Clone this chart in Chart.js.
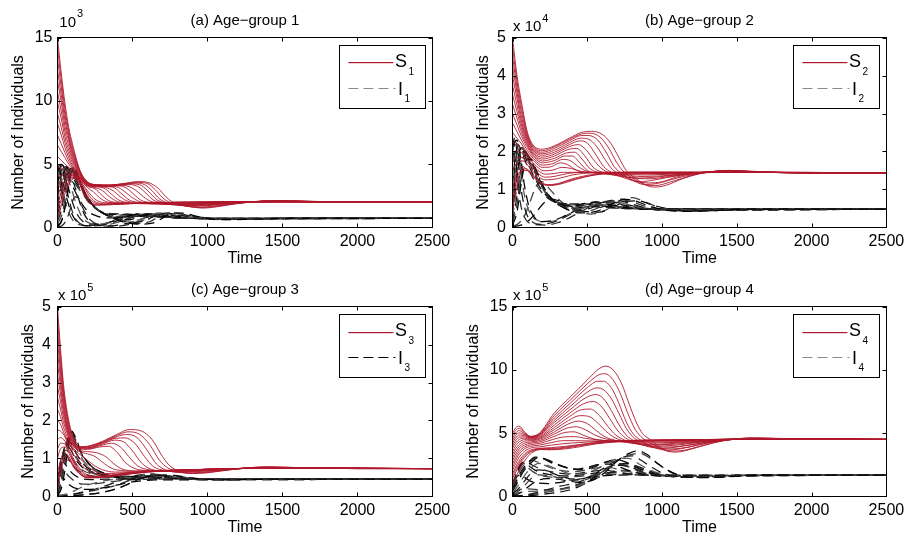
<!DOCTYPE html>
<html><head><meta charset="utf-8">
<script src="https://cdn.jsdelivr.net/npm/chart.js@4.4.1/dist/chart.umd.min.js"></script>
<style>
html,body{margin:0;padding:0;background:#fff;}
#wrap{position:relative;width:909px;height:541px;overflow:hidden;background:#fff;}
canvas{position:absolute;}
</style></head><body>
<div id="wrap">
<canvas id="cA" width="455" height="270" style="left:0;top:0;width:455px;height:270px"></canvas>
<canvas id="cB" width="454" height="270" style="left:455px;top:0;width:454px;height:270px"></canvas>
<canvas id="cC" width="455" height="270" style="left:0;top:269px;width:455px;height:270px"></canvas>
<canvas id="cD" width="454" height="270" style="left:455px;top:269px;width:454px;height:270px"></canvas>
</div>
<script>
// ---------------- data ----------------
const timeTicks = [0, 500, 1000, 1500, 2000, 2500];
const panelTitles = ['(a) Age\u2212group 1', '(b) Age\u2212group 2', '(c) Age\u2212group 3', '(d) Age\u2212group 4'];
const yMaxes = [15, 5, 5, 15];
const yStepsList = [5, 1, 1, 5];
const expPrefixes = ['10', 'x 10', 'x 10', 'x 10'];
const expPowers = ['3', '4', '5', '5'];
const legendSubs = ['1', '2', '3', '4'];
const xLabel = 'Time';
const yLabel = 'Number of Individuals';

// S runs, group 1 (x10^3): [time, value]
const S1 = [
 [[0,15],[25,12.2],[50,9.8],[75,7.9],[100,6.6],[150,4.5],[200,3.6],[260,3.38],[350,3.35],[450,3.48],[540,3.62],[610,3.52],[670,3.1],[720,2.45],[760,2.05],[820,1.8],[900,1.6],[970,1.52],[1050,1.6],[1200,1.88],[1450,2.12],[1700,2.05],[2000,2.0],[2500,2.0]],
 [[0,14.2],[25,11.7],[50,9.35],[75,7.6],[100,6.35],[150,4.45],[200,3.58],[260,3.36],[350,3.34],[445,3.45],[530,3.56],[600,3.46],[650,3.0],[700,2.35],[740,2.02],[800,1.81],[890,1.62],[960,1.56],[1045,1.64],[1200,1.89],[1450,2.11],[1700,2.05],[2000,2.0],[2500,2.0]],
 [[0,13.3],[25,11.1],[50,8.9],[75,7.3],[100,6.1],[150,4.4],[200,3.55],[260,3.35],[350,3.32],[440,3.42],[515,3.5],[580,3.38],[630,2.9],[680,2.25],[720,2.0],[790,1.82],[880,1.65],[950,1.6],[1040,1.68],[1200,1.9],[1450,2.1],[1700,2.04],[2000,2.0],[2500,2.0]],
 [[0,12.4],[25,10.5],[50,8.45],[75,7.05],[100,5.9],[150,4.35],[200,3.52],[260,3.33],[350,3.31],[435,3.39],[500,3.44],[560,3.3],[610,2.8],[660,2.2],[705,1.98],[785,1.81],[880,1.68],[975,1.7],[1200,1.91],[1450,2.1],[1700,2.03],[2000,2.0],[2500,2.0]],
 [[0,11.6],[25,9.9],[50,8.0],[75,6.8],[100,5.7],[150,4.3],[200,3.5],[260,3.32],[350,3.3],[430,3.36],[480,3.38],[540,3.2],[590,2.7],[640,2.15],[690,1.96],[780,1.8],[880,1.7],[1000,1.75],[1200,1.93],[1450,2.09],[1700,2.03],[2000,2.0],[2500,2.0]],
 [[0,10.7],[25,9.2],[50,7.55],[75,6.45],[100,5.5],[150,4.22],[200,3.47],[260,3.31],[350,3.28],[420,3.32],[470,3.25],[525,2.9],[575,2.4],[625,2.04],[680,1.93],[760,1.8],[870,1.73],[1000,1.78],[1200,1.94],[1450,2.08],[1700,2.03],[2500,2.0]],
 [[0,9.9],[25,8.6],[50,7.1],[75,6.1],[100,5.3],[150,4.15],[200,3.45],[260,3.3],[350,3.27],[410,3.28],[460,3.1],[510,2.6],[560,2.12],[620,1.96],[720,1.82],[850,1.76],[1000,1.82],[1200,1.96],[1450,2.07],[1700,2.03],[2000,2.0],[2500,2.0]],
 [[0,9.0],[25,7.9],[50,6.7],[75,5.8],[100,5.1],[150,4.08],[200,3.42],[260,3.28],[340,3.24],[395,3.2],[445,2.85],[495,2.38],[550,2.02],[620,1.92],[750,1.83],[900,1.8],[1000,1.85],[1200,1.97],[1450,2.06],[1700,2.02],[2500,2.0]],
 [[0,8.2],[25,7.3],[50,6.3],[75,5.5],[100,4.9],[150,4.0],[200,3.4],[260,3.27],[330,3.22],[380,3.12],[430,2.62],[480,2.15],[540,1.96],[650,1.85],[800,1.82],[1000,1.88],[1200,1.98],[1450,2.06],[1700,2.02],[2500,2.0]],
 [[0,7.3],[25,6.6],[50,5.9],[75,5.25],[100,4.75],[150,3.95],[200,3.38],[260,3.24],[320,3.16],[370,2.9],[420,2.4],[470,2.05],[530,1.94],[640,1.86],[800,1.85],[1000,1.9],[1200,1.99],[1450,2.05],[2500,2.0]],
 [[0,6.5],[25,6.0],[50,5.5],[75,5.0],[100,4.6],[150,3.9],[200,3.35],[260,3.2],[310,3.1],[360,2.62],[410,2.15],[470,1.96],[580,1.87],[750,1.87],[1000,1.93],[1200,2.0],[1450,2.05],[2500,2.0]],
 [[0,5.6],[25,5.3],[50,5.0],[100,4.45],[150,3.85],[200,3.3],[250,3.14],[300,2.9],[350,2.38],[400,2.04],[460,1.93],[580,1.87],[750,1.9],[1000,1.95],[1450,2.04],[2500,2.0]],
 [[0,4.8],[25,4.65],[50,4.5],[100,4.3],[150,3.8],[200,3.25],[250,3.05],[290,2.6],[340,2.12],[400,1.95],[530,1.88],[750,1.92],[1000,1.97],[1450,2.04],[2500,2.0]],
 [[0,4.0],[25,4.1],[50,4.2],[100,4.2],[150,3.75],[200,3.15],[240,2.8],[280,2.35],[320,2.05],[380,1.93],[500,1.88],[750,1.93],[1000,1.98],[1450,2.03],[2500,2.0]],
 [[0,3.2],[25,3.6],[50,3.95],[100,4.1],[150,3.7],[190,3.05],[230,2.45],[270,2.08],[330,1.93],[480,1.88],[750,1.95],[1000,2.0],[1450,2.03],[2500,2.0]],
 [[0,2.5],[25,3.15],[50,3.7],[95,4.05],[140,3.8],[180,3.1],[220,2.35],[260,1.98],[320,1.86],[480,1.88],[800,1.98],[1450,2.02],[2500,2.0]],
 [[0,1.8],[25,2.7],[50,3.4],[90,3.95],[130,3.85],[170,3.1],[210,2.3],[250,1.92],[310,1.82],[480,1.88],[800,1.98],[1450,2.02],[2500,2.0]],
 [[0,1.2],[25,2.2],[50,3.05],[85,3.75],[120,3.9],[155,3.3],[190,2.45],[230,1.9],[290,1.78],[460,1.86],[800,1.98],[2500,2.0]],
 [[0,0.6],[25,1.7],[50,2.7],[80,3.5],[115,3.9],[145,3.45],[175,2.6],[210,1.9],[270,1.75],[450,1.85],[800,1.98],[2500,2.0]]
];
// I runs, group 1 (x10^3)
const I1 = [
 [[0,0.1],[30,0.6],[60,2.2],[85,4.0],[110,4.7],[140,4.0],[180,2.8],[250,1.6],[330,0.95],[430,0.45],[540,0.25],[640,0.35],[710,0.8],[770,1.15],[840,1.12],[940,0.85],[1080,0.6],[1300,0.64],[1600,0.72],[2500,0.7]],
 [[0,0.3],[28,0.95],[55,2.55],[82,4.3],[108,4.72],[140,3.98],[180,2.78],[250,1.6],[330,0.95],[425,0.48],[525,0.3],[615,0.45],[685,0.9],[745,1.14],[820,1.06],[935,0.8],[1080,0.61],[1300,0.65],[1600,0.72],[2500,0.7]],
 [[0,0.5],[25,1.3],[50,2.9],[78,4.5],[105,4.7],[140,3.95],[180,2.75],[250,1.58],[330,0.95],[420,0.52],[510,0.38],[590,0.55],[660,1.0],[720,1.12],[800,1.0],[930,0.74],[1080,0.62],[1300,0.66],[1600,0.71],[2500,0.7]],
 [[0,0.75],[25,1.75],[50,3.3],[77,4.55],[102,4.65],[140,3.9],[180,2.73],[250,1.58],[330,0.96],[415,0.58],[495,0.48],[570,0.7],[640,1.05],[705,1.12],[795,0.95],[935,0.72],[1090,0.63],[1300,0.66],[1600,0.71],[2500,0.7]],
 [[0,1.0],[25,2.2],[50,3.7],[75,4.6],[100,4.6],[140,3.85],[180,2.72],[250,1.58],[330,0.98],[410,0.65],[480,0.6],[550,0.85],[620,1.08],[690,1.1],[790,0.9],[940,0.7],[1100,0.64],[1300,0.67],[1600,0.71],[2500,0.7]],
 [[0,1.3],[22,2.6],[48,4.05],[72,4.68],[100,4.5],[140,3.78],[180,2.71],[250,1.58],[325,0.99],[400,0.72],[470,0.72],[535,0.94],[605,1.09],[690,1.02],[820,0.82],[970,0.68],[1300,0.68],[1600,0.71],[2500,0.7]],
 [[0,1.6],[20,3.0],[45,4.4],[70,4.75],[100,4.4],[140,3.7],[180,2.7],[250,1.58],[320,1.0],[390,0.78],[460,0.85],[520,1.02],[590,1.08],[690,0.95],[850,0.75],[1000,0.66],[1300,0.68],[1600,0.71],[2500,0.7]],
 [[0,1.9],[20,3.4],[42,4.55],[65,4.78],[95,4.35],[135,3.65],[180,2.68],[250,1.58],[320,1.02],[390,0.86],[460,0.93],[525,1.03],[615,1.0],[740,0.85],[900,0.72],[1300,0.69],[2500,0.7]],
 [[0,2.2],[20,3.8],[40,4.7],[60,4.8],[90,4.3],[130,3.6],[180,2.65],[250,1.58],[320,1.05],[390,0.95],[460,1.02],[530,1.04],[640,0.9],[800,0.75],[1000,0.68],[1300,0.69],[2500,0.7]],
 [[0,2.55],[18,4.05],[35,4.8],[55,4.8],[85,4.2],[125,3.5],[175,2.62],[245,1.59],[315,1.1],[385,1.02],[455,1.03],[540,1.0],[670,0.86],[850,0.73],[1300,0.69],[2500,0.7]],
 [[0,2.9],[15,4.3],[30,4.9],[50,4.8],[80,4.1],[120,3.4],[170,2.6],[240,1.6],[310,1.15],[380,1.08],[450,1.04],[550,0.95],[700,0.8],[900,0.7],[1300,0.69],[2500,0.7]],
 [[0,3.25],[14,4.5],[28,4.95],[48,4.7],[80,3.8],[115,2.9],[155,2.0],[200,1.3],[260,0.9],[330,0.75],[400,0.8],[480,0.92],[600,0.9],[800,0.76],[1100,0.7],[2500,0.7]],
 [[0,3.6],[12,4.7],[25,5.0],[45,4.6],[80,3.5],[110,2.4],[140,1.4],[170,0.7],[210,0.35],[270,0.25],[340,0.35],[400,0.6],[460,0.85],[540,0.95],[700,0.82],[1000,0.7],[2500,0.7]],
 [[0,3.95],[11,4.8],[25,4.85],[48,4.1],[78,2.9],[105,1.8],[135,0.95],[170,0.45],[220,0.25],[285,0.25],[355,0.42],[420,0.7],[490,0.88],[620,0.9],[850,0.76],[1100,0.7],[2500,0.7]],
 [[0,4.3],[10,4.9],[25,4.7],[50,3.6],[75,2.3],[100,1.2],[130,0.5],[170,0.2],[230,0.15],[300,0.25],[370,0.5],[440,0.8],[520,0.92],[700,0.82],[1000,0.71],[2500,0.7]],
 [[0,4.6],[12,4.65],[30,3.9],[55,2.6],[82,1.5],[110,0.75],[145,0.3],[200,0.12],[270,0.15],[345,0.3],[415,0.58],[490,0.82],[580,0.9],[760,0.8],[1000,0.71],[2500,0.7]],
 [[0,4.9],[15,4.3],[35,3.0],[60,1.7],[90,0.8],[120,0.35],[170,0.15],[250,0.12],[330,0.2],[400,0.4],[470,0.7],[560,0.88],[750,0.8],[1000,0.71],[2500,0.7]],
 [[0,0.02],[30,0.12],[60,0.6],[90,1.6],[115,2.4],[140,2.3],[170,1.5],[210,0.7],[260,0.25],[330,0.1],[420,0.12],[500,0.3],[580,0.6],[660,0.9],[740,1.08],[830,1.0],[950,0.8],[1100,0.66],[1400,0.69],[2500,0.7]],
 [[0,0.05],[20,0.3],[40,1.0],[60,2.3],[80,3.4],[100,3.6],[125,2.9],[150,1.9],[180,1.0],[220,0.4],[280,0.15],[360,0.12],[440,0.25],[520,0.5],[600,0.8],[680,1.0],[780,0.95],[900,0.78],[1100,0.66],[1400,0.69],[2500,0.7]]
];
// S runs, group 2 (x10^4)
const S2 = [
 [[0,5],[30,4.0],[60,3.3],[100,2.5],[150,2.12],[200,2.06],[280,2.15],[380,2.35],[460,2.5],[530,2.53],[600,2.45],[660,2.2],[710,1.85],[760,1.5],[820,1.3],[900,1.1],[950,1.06],[1020,1.1],[1150,1.3],[1300,1.45],[1450,1.5],[1650,1.47],[2000,1.43],[2500,1.43]],
 [[0,4.75],[30,3.85],[60,3.18],[100,2.45],[150,2.08],[200,2.02],[280,2.12],[380,2.32],[460,2.46],[520,2.48],[585,2.38],[645,2.08],[695,1.72],[745,1.46],[810,1.28],[890,1.12],[955,1.1],[1060,1.2],[1200,1.37],[1300,1.45],[1450,1.5],[1650,1.46],[2000,1.43],[2500,1.43]],
 [[0,4.5],[30,3.7],[60,3.05],[100,2.4],[150,2.05],[200,1.98],[280,2.08],[380,2.28],[460,2.42],[510,2.42],[570,2.3],[630,1.95],[680,1.6],[730,1.42],[800,1.25],[880,1.13],[960,1.15],[1100,1.3],[1300,1.45],[1450,1.49],[1650,1.46],[2000,1.43],[2500,1.43]],
 [[0,4.25],[30,3.55],[60,2.92],[100,2.35],[150,2.02],[200,1.94],[280,2.03],[380,2.23],[455,2.35],[505,2.33],[565,2.12],[620,1.78],[670,1.52],[740,1.36],[825,1.22],[910,1.17],[1000,1.2],[1100,1.33],[1300,1.45],[1450,1.49],[1700,1.45],[2000,1.43],[2500,1.43]],
 [[0,4.0],[30,3.4],[60,2.8],[100,2.3],[150,1.98],[200,1.9],[280,1.98],[380,2.18],[450,2.28],[500,2.22],[560,1.9],[610,1.6],[660,1.45],[750,1.3],[850,1.2],[950,1.25],[1100,1.36],[1300,1.46],[1450,1.49],[1700,1.45],[2000,1.43],[2500,1.43]],
 [[0,3.75],[30,3.22],[60,2.7],[100,2.25],[150,1.94],[200,1.85],[280,1.93],[375,2.12],[440,2.18],[490,2.05],[550,1.74],[605,1.52],[680,1.4],[800,1.3],[920,1.28],[1050,1.34],[1250,1.44],[1450,1.48],[1700,1.45],[2500,1.43]],
 [[0,3.5],[30,3.05],[60,2.6],[100,2.2],[150,1.9],[200,1.8],[280,1.88],[370,2.05],[430,2.08],[480,1.9],[540,1.58],[600,1.45],[700,1.36],[850,1.3],[1000,1.34],[1200,1.43],[1450,1.48],[1700,1.45],[2500,1.43]],
 [[0,3.25],[30,2.88],[60,2.5],[100,2.15],[150,1.86],[200,1.75],[280,1.82],[360,1.96],[415,1.98],[465,1.8],[520,1.54],[580,1.44],[700,1.38],[880,1.34],[1050,1.37],[1250,1.44],[1450,1.47],[1700,1.45],[2500,1.43]],
 [[0,3.0],[30,2.7],[60,2.4],[100,2.1],[150,1.82],[200,1.7],[280,1.76],[350,1.88],[400,1.88],[450,1.7],[500,1.5],[560,1.43],[700,1.4],[900,1.38],[1100,1.41],[1450,1.47],[1700,1.45],[2500,1.43]],
 [[0,2.75],[30,2.52],[60,2.3],[100,2.02],[150,1.77],[200,1.64],[270,1.68],[335,1.79],[385,1.76],[440,1.6],[500,1.47],[600,1.43],[800,1.41],[1050,1.41],[1450,1.46],[2500,1.43]],
 [[0,2.5],[30,2.35],[60,2.2],[100,1.95],[150,1.72],[200,1.58],[260,1.6],[320,1.7],[370,1.65],[430,1.5],[500,1.44],[700,1.43],[1000,1.42],[1450,1.46],[2500,1.43]],
 [[0,2.25],[35,2.15],[70,2.05],[110,1.83],[160,1.61],[210,1.49],[270,1.51],[330,1.58],[395,1.55],[460,1.47],[600,1.44],[1000,1.43],[1450,1.45],[2500,1.43]],
 [[0,2.0],[40,2.0],[80,1.9],[120,1.7],[170,1.5],[220,1.4],[280,1.42],[340,1.45],[420,1.45],[600,1.45],[1000,1.43],[1450,1.45],[2500,1.43]],
 [[0,1.75],[35,1.85],[75,1.82],[115,1.65],[165,1.44],[220,1.32],[290,1.35],[370,1.42],[500,1.45],[800,1.45],[1450,1.45],[2500,1.43]],
 [[0,1.5],[30,1.7],[70,1.75],[110,1.6],[160,1.38],[220,1.25],[300,1.28],[400,1.38],[550,1.44],[800,1.45],[1450,1.45],[2500,1.43]],
 [[0,1.0],[30,1.45],[70,1.6],[110,1.45],[160,1.25],[220,1.12],[300,1.15],[400,1.28],[550,1.4],[800,1.45],[1450,1.45],[2500,1.43]],
 [[0,0.7],[25,1.2],[60,1.5],[100,1.5],[145,1.32],[200,1.16],[270,1.12],[360,1.21],[480,1.33],[620,1.42],[850,1.45],[1450,1.45],[2500,1.43]],
 [[0,0.4],[20,0.9],[50,1.4],[90,1.55],[130,1.4],[180,1.2],[240,1.1],[320,1.14],[420,1.26],[550,1.38],[800,1.45],[1450,1.45],[2500,1.43]]
];
// I runs, group 2 (x10^4)
const I2 = [
 [[0,0.05],[30,0.4],[60,1.2],[90,1.75],[120,1.8],[160,1.5],[210,1.05],[270,0.72],[350,0.5],[450,0.38],[560,0.42],[650,0.58],[730,0.74],[800,0.72],[900,0.58],[1000,0.47],[1150,0.42],[1350,0.44],[1600,0.48],[2500,0.48]],
 [[0,0.1],[28,0.55],[58,1.35],[85,1.82],[115,1.82],[155,1.52],[205,1.08],[265,0.74],[345,0.52],[445,0.42],[540,0.46],[625,0.61],[705,0.73],[780,0.69],[890,0.55],[1000,0.46],[1170,0.43],[1400,0.45],[1600,0.48],[2500,0.48]],
 [[0,0.15],[25,0.7],[55,1.5],[80,1.9],[110,1.85],[150,1.55],[200,1.1],[260,0.75],[340,0.53],[440,0.45],[520,0.5],[600,0.64],[680,0.72],[760,0.66],[880,0.52],[1000,0.45],[1200,0.44],[1500,0.47],[2500,0.48]],
 [[0,0.25],[22,0.85],[50,1.6],[75,1.95],[105,1.88],[145,1.58],[195,1.12],[255,0.77],[335,0.54],[430,0.48],[510,0.54],[585,0.66],[665,0.7],[755,0.62],[890,0.5],[1100,0.45],[1500,0.47],[2500,0.48]],
 [[0,0.35],[20,1.0],[45,1.7],[70,2.0],[100,1.9],[140,1.6],[190,1.15],[250,0.78],[330,0.55],[420,0.5],[500,0.58],[570,0.68],[650,0.68],[750,0.58],[900,0.48],[1200,0.45],[1500,0.47],[2500,0.48]],
 [[0,0.48],[20,1.18],[42,1.8],[68,2.05],[98,1.93],[140,1.6],[190,1.15],[250,0.79],[325,0.58],[410,0.53],[485,0.6],[555,0.67],[650,0.64],[775,0.54],[1000,0.47],[1500,0.47],[2500,0.48]],
 [[0,0.6],[20,1.35],[40,1.9],[65,2.1],[95,1.95],[140,1.6],[190,1.15],[250,0.8],[320,0.6],[400,0.56],[470,0.62],[540,0.66],[650,0.6],[800,0.5],[1100,0.46],[1500,0.47],[2500,0.48]],
 [[0,0.75],[20,1.52],[40,2.0],[62,2.1],[92,1.92],[135,1.58],[185,1.15],[245,0.81],[315,0.62],[390,0.59],[460,0.62],[545,0.62],[675,0.56],[900,0.48],[1500,0.47],[2500,0.48]],
 [[0,0.9],[20,1.7],[40,2.1],[60,2.1],[90,1.9],[130,1.55],[180,1.15],[240,0.82],[310,0.65],[380,0.62],[450,0.62],[550,0.58],[700,0.52],[1000,0.47],[1500,0.47],[2500,0.48]],
 [[0,1.1],[17,1.82],[37,2.15],[58,2.08],[90,1.8],[130,1.45],[180,1.08],[240,0.78],[315,0.63],[400,0.6],[550,0.56],[800,0.49],[2500,0.48]],
 [[0,1.3],[15,1.95],[35,2.2],[55,2.05],[90,1.7],[130,1.35],[180,1.0],[240,0.75],[320,0.62],[420,0.58],[550,0.54],[800,0.49],[2500,0.48]],
 [[0,1.7],[15,2.25],[30,2.3],[55,1.8],[80,1.1],[110,0.55],[150,0.25],[200,0.15],[270,0.18],[350,0.3],[430,0.45],[520,0.55],[650,0.55],[850,0.5],[2500,0.48]],
 [[0,1.9],[15,2.3],[32,2.1],[57,1.4],[85,0.75],[120,0.35],[170,0.18],[230,0.14],[305,0.2],[385,0.36],[465,0.5],[560,0.58],[700,0.55],[900,0.49],[2500,0.48]],
 [[0,2.1],[15,2.35],[35,1.8],[60,0.95],[90,0.4],[130,0.15],[190,0.08],[260,0.12],[340,0.25],[420,0.42],[500,0.55],[600,0.6],[750,0.52],[1000,0.47],[2500,0.48]],
 [[0,2.4],[15,1.9],[35,1.1],[60,0.5],[90,0.2],[140,0.08],[220,0.06],[300,0.12],[380,0.25],[460,0.42],[540,0.58],[640,0.68],[760,0.6],[900,0.5],[1200,0.45],[2500,0.48]],
 [[0,0.01],[50,0.05],[100,0.15],[150,0.35],[200,0.6],[250,0.75],[310,0.7],[390,0.55],[480,0.42],[580,0.4],[680,0.55],[760,0.68],[840,0.7],[940,0.58],[1100,0.46],[1400,0.45],[2500,0.48]],
 [[0,0.02],[40,0.1],[80,0.3],[120,0.7],[160,1.1],[200,1.2],[250,1.0],[320,0.7],[420,0.45],[520,0.35],[620,0.45],[720,0.7],[800,0.78],[880,0.68],[1000,0.5],[1200,0.42],[1500,0.46],[2500,0.48]]
];
// S runs, group 3 (x10^5)
const S3 = [
 [[0,5],[20,3.9],[40,2.95],[70,2.1],[110,1.5],[150,1.3],[200,1.32],[300,1.45],[400,1.64],[480,1.76],[560,1.72],[630,1.5],[700,1.05],[750,0.8],[820,0.65],[900,0.6],[1000,0.62],[1150,0.7],[1400,0.78],[1650,0.75],[2000,0.73],[2500,0.73]],
 [[0,4.7],[20,3.7],[40,2.82],[70,2.02],[110,1.48],[150,1.3],[200,1.31],[300,1.43],[400,1.61],[470,1.7],[545,1.64],[615,1.36],[680,0.95],[735,0.75],[810,0.64],[900,0.61],[1020,0.64],[1150,0.7],[1400,0.77],[1650,0.75],[2000,0.73],[2500,0.73]],
 [[0,4.4],[20,3.5],[40,2.7],[70,1.95],[110,1.45],[150,1.3],[200,1.3],[300,1.42],[400,1.58],[460,1.63],[530,1.55],[600,1.2],[660,0.85],[720,0.7],[800,0.63],[900,0.62],[1050,0.67],[1400,0.77],[1650,0.75],[2000,0.73],[2500,0.73]],
 [[0,4.1],[20,3.3],[40,2.58],[70,1.88],[110,1.42],[150,1.29],[200,1.28],[300,1.4],[390,1.53],[450,1.54],[515,1.4],[580,1.05],[640,0.78],[720,0.68],[830,0.64],[1000,0.67],[1400,0.76],[1700,0.74],[2500,0.73]],
 [[0,3.8],[20,3.1],[40,2.45],[70,1.8],[110,1.4],[150,1.28],[200,1.27],[300,1.38],[380,1.48],[440,1.44],[500,1.2],[560,0.88],[620,0.72],[720,0.66],[850,0.65],[1050,0.69],[1400,0.76],[1700,0.74],[2500,0.73]],
 [[0,3.5],[20,2.9],[40,2.32],[70,1.75],[110,1.38],[150,1.26],[200,1.25],[290,1.34],[360,1.4],[420,1.3],[475,1.05],[535,0.8],[610,0.7],[730,0.66],[900,0.67],[1100,0.71],[1400,0.75],[1700,0.74],[2500,0.73]],
 [[0,3.2],[20,2.7],[40,2.2],[70,1.7],[110,1.35],[150,1.25],[200,1.24],[280,1.3],[340,1.32],[400,1.15],[450,0.9],[510,0.74],[600,0.68],[750,0.67],[1000,0.7],[1400,0.75],[1700,0.74],[2500,0.73]],
 [[0,2.9],[20,2.5],[40,2.08],[70,1.65],[110,1.32],[150,1.21],[200,1.18],[260,1.15],[320,1.05],[375,0.86],[430,0.72],[520,0.67],[700,0.67],[1000,0.7],[1400,0.75],[2500,0.73]],
 [[0,2.6],[20,2.3],[40,1.95],[70,1.6],[110,1.3],[150,1.18],[200,1.12],[250,1.05],[300,0.9],[350,0.76],[420,0.68],[550,0.66],[800,0.69],[1100,0.72],[1400,0.75],[2500,0.73]],
 [[0,2.3],[20,2.1],[40,1.82],[70,1.52],[110,1.25],[150,1.1],[200,0.95],[250,0.8],[300,0.7],[380,0.64],[500,0.64],[750,0.68],[1100,0.72],[1400,0.75],[2500,0.73]],
 [[0,2.0],[20,1.9],[40,1.7],[70,1.45],[110,1.2],[150,1.0],[200,0.8],[250,0.66],[320,0.6],[450,0.62],[700,0.68],[1100,0.72],[1400,0.75],[2500,0.73]],
 [[0,1.75],[20,1.72],[45,1.6],[75,1.33],[115,1.05],[155,0.84],[205,0.67],[260,0.58],[330,0.56],[450,0.6],[700,0.67],[1100,0.72],[1400,0.75],[2500,0.73]],
 [[0,1.5],[20,1.55],[50,1.45],[80,1.2],[120,0.9],[160,0.68],[210,0.55],[280,0.52],[400,0.58],[600,0.66],[900,0.7],[1400,0.74],[2500,0.73]],
 [[0,1.25],[20,1.4],[50,1.38],[80,1.15],[120,0.85],[160,0.64],[210,0.52],[280,0.51],[400,0.57],[600,0.65],[900,0.7],[1400,0.74],[2500,0.73]],
 [[0,1.0],[20,1.25],[50,1.3],[80,1.1],[120,0.8],[160,0.6],[210,0.5],[280,0.5],[400,0.57],[600,0.65],[900,0.7],[1400,0.74],[2500,0.73]],
 [[0,0.6],[20,0.95],[45,1.15],[75,1.05],[110,0.8],[150,0.6],[200,0.5],[270,0.5],[400,0.56],[600,0.65],[900,0.7],[1400,0.74],[2500,0.73]],
 [[0,0.4],[20,0.78],[45,1.05],[75,1.0],[110,0.78],[150,0.59],[200,0.49],[270,0.49],[400,0.55],[600,0.64],[900,0.7],[1400,0.74],[2500,0.73]],
 [[0,0.2],[20,0.6],[45,0.95],[75,0.95],[110,0.75],[150,0.58],[200,0.49],[270,0.49],[400,0.55],[600,0.64],[900,0.7],[1400,0.74],[2500,0.73]]
];
// I runs, group 3 (x10^5)
const I3 = [
 [[0,0.02],[25,0.2],[50,0.7],[75,1.4],[95,1.72],[120,1.55],[160,1.15],[210,0.85],[280,0.66],[380,0.52],[480,0.45],[580,0.5],[680,0.56],[780,0.55],[900,0.48],[1100,0.43],[1400,0.45],[2500,0.45]],
 [[0,0.04],[25,0.3],[50,0.9],[75,1.5],[95,1.69],[122,1.48],[165,1.1],[220,0.82],[290,0.64],[390,0.51],[490,0.46],[590,0.52],[690,0.56],[815,0.52],[1000,0.45],[1400,0.45],[2500,0.45]],
 [[0,0.06],[25,0.4],[50,1.1],[75,1.6],[95,1.65],[125,1.4],[170,1.05],[230,0.78],[300,0.62],[400,0.5],[500,0.48],[600,0.54],[700,0.55],[850,0.48],[1100,0.44],[1400,0.45],[2500,0.45]],
 [[0,0.09],[22,0.48],[48,1.15],[70,1.53],[92,1.52],[128,1.25],[175,0.93],[235,0.72],[310,0.58],[410,0.5],[510,0.5],[620,0.54],[750,0.52],[950,0.46],[1400,0.45],[2500,0.45]],
 [[0,0.12],[20,0.55],[45,1.2],[65,1.45],[90,1.4],[130,1.1],[180,0.82],[240,0.66],[320,0.55],[420,0.5],[520,0.53],[640,0.54],[800,0.49],[1100,0.45],[2500,0.45]],
 [[0,0.16],[20,0.65],[42,1.2],[62,1.4],[88,1.32],[128,1.02],[175,0.78],[235,0.64],[320,0.55],[435,0.52],[560,0.52],[720,0.5],[1000,0.45],[2500,0.45]],
 [[0,0.2],[20,0.75],[40,1.2],[60,1.35],[85,1.25],[125,0.95],[170,0.75],[230,0.62],[320,0.55],[450,0.53],[600,0.52],[800,0.48],[1100,0.45],[2500,0.45]],
 [[0,0.25],[17,0.78],[37,1.15],[57,1.22],[85,1.08],[128,0.82],[180,0.66],[250,0.57],[360,0.52],[520,0.5],[800,0.47],[2500,0.45]],
 [[0,0.3],[15,0.8],[35,1.1],[55,1.1],[85,0.9],[130,0.7],[190,0.57],[270,0.52],[400,0.5],[600,0.48],[900,0.46],[2500,0.45]],
 [[0,0.4],[15,0.75],[35,0.9],[60,0.8],[100,0.6],[150,0.48],[220,0.44],[320,0.45],[500,0.46],[2500,0.45]],
 [[0,0.45],[18,0.65],[40,0.68],[70,0.55],[115,0.4],[170,0.32],[250,0.33],[350,0.38],[480,0.43],[700,0.45],[2500,0.45]],
 [[0,0.5],[20,0.55],[45,0.45],[80,0.3],[130,0.2],[200,0.18],[300,0.22],[400,0.3],[500,0.38],[650,0.43],[2500,0.45]],
 [[0,0.01],[50,0.05],[100,0.12],[150,0.22],[200,0.3],[260,0.36],[330,0.42],[420,0.46],[520,0.52],[620,0.6],[700,0.55],[820,0.47],[1000,0.43],[1400,0.45],[2500,0.45]],
 [[0,0.02],[60,0.03],[130,0.08],[220,0.16],[300,0.25],[380,0.36],[460,0.48],[540,0.56],[620,0.58],[700,0.53],[830,0.47],[1050,0.44],[2500,0.45]],
 [[0,0.03],[40,0.02],[100,0.05],[200,0.12],[300,0.2],[400,0.3],[480,0.42],[560,0.55],[640,0.58],[720,0.52],[850,0.46],[1100,0.44],[2500,0.45]],
 [[0,0.0],[80,0.01],[170,0.04],[260,0.08],[350,0.15],[420,0.24],[490,0.36],[560,0.48],[640,0.53],[740,0.5],[900,0.46],[2500,0.45]],
 [[0,0.0],[100,0.02],[200,0.05],[300,0.1],[400,0.2],[450,0.28],[520,0.42],[600,0.5],[700,0.5],[900,0.46],[2500,0.45]]
];
// S runs, group 4 (x10^5)
const S4 = [
 [[0,5.0],[20,5.4],[45,5.55],[80,5.1],[120,4.75],[180,5.0],[280,6.6],[390,7.9],[500,9.2],[580,10.1],[625,10.3],[680,9.9],[730,8.9],[780,7.3],[830,5.8],[870,4.95],[920,4.5],[980,3.95],[1040,3.55],[1100,3.5],[1200,3.75],[1350,4.25],[1500,4.55],[1650,4.62],[1850,4.55],[2500,4.5]],
 [[0,4.8],[20,5.2],[45,5.38],[80,5.02],[120,4.72],[180,4.95],[280,6.4],[390,7.65],[500,8.9],[575,9.6],[617,9.7],[670,9.25],[720,8.15],[770,6.6],[820,5.3],[870,4.6],[935,4.15],[1000,3.75],[1070,3.58],[1150,3.65],[1250,3.95],[1400,4.38],[1600,4.6],[1850,4.55],[2500,4.5]],
 [[0,4.6],[20,5.0],[45,5.2],[80,4.95],[120,4.7],[180,4.9],[280,6.2],[390,7.4],[500,8.6],[570,9.1],[610,9.1],[660,8.6],[710,7.4],[760,5.9],[810,4.9],[870,4.35],[950,3.85],[1030,3.65],[1120,3.75],[1250,4.1],[1400,4.45],[1600,4.6],[1850,4.55],[2500,4.5]],
 [[0,4.4],[20,4.8],[45,5.02],[80,4.88],[120,4.68],[180,4.85],[280,6.02],[390,7.15],[495,8.2],[565,8.58],[612,8.4],[662,7.7],[712,6.55],[762,5.35],[815,4.6],[885,4.15],[975,3.82],[1065,3.75],[1180,3.9],[1320,4.25],[1450,4.48],[1600,4.59],[1850,4.55],[2500,4.5]],
 [[0,4.2],[20,4.6],[45,4.85],[80,4.8],[120,4.65],[180,4.8],[280,5.85],[390,6.9],[490,7.8],[560,8.05],[610,7.7],[660,6.8],[710,5.7],[760,4.85],[820,4.35],[900,3.95],[1000,3.8],[1100,3.9],[1250,4.2],[1400,4.45],[1600,4.58],[1850,4.54],[2500,4.5]],
 [[0,4.0],[20,4.4],[45,4.68],[80,4.7],[120,4.6],[180,4.72],[280,5.65],[385,6.6],[475,7.32],[540,7.5],[595,7.1],[650,6.15],[700,5.25],[755,4.62],[835,4.2],[925,3.95],[1040,3.9],[1180,4.05],[1350,4.35],[1550,4.55],[1850,4.55],[2500,4.5]],
 [[0,3.8],[20,4.2],[45,4.5],[80,4.6],[120,4.55],[180,4.65],[280,5.45],[380,6.3],[460,6.85],[520,6.9],[580,6.4],[640,5.5],[690,4.85],[750,4.45],[850,4.1],[950,3.98],[1100,4.05],[1300,4.35],[1500,4.52],[1700,4.56],[2500,4.5]],
 [[0,3.55],[20,3.98],[45,4.3],[80,4.48],[120,4.48],[180,4.58],[280,5.28],[375,6.0],[450,6.38],[510,6.32],[570,5.8],[630,5.1],[685,4.63],[770,4.3],[900,4.08],[1050,4.1],[1250,4.3],[1450,4.48],[1700,4.55],[2500,4.5]],
 [[0,3.3],[20,3.75],[45,4.1],[80,4.35],[120,4.4],[180,4.5],[280,5.1],[370,5.7],[440,5.95],[500,5.75],[560,5.2],[620,4.7],[680,4.45],[800,4.2],[950,4.12],[1150,4.25],[1400,4.45],[1600,4.55],[2500,4.5]],
 [[0,3.05],[20,3.52],[45,3.92],[80,4.2],[120,4.3],[180,4.4],[275,4.9],[360,5.38],[425,5.5],[485,5.28],[550,4.85],[620,4.55],[720,4.37],[900,4.22],[1100,4.27],[1350,4.43],[1600,4.54],[2500,4.5]],
 [[0,2.8],[20,3.3],[45,3.75],[80,4.05],[120,4.2],[180,4.3],[270,4.7],[350,5.05],[410,5.1],[470,4.85],[540,4.55],[620,4.4],[800,4.3],[1000,4.3],[1250,4.4],[1500,4.52],[2500,4.5]],
 [[0,2.55],[20,3.05],[45,3.55],[80,3.9],[120,4.08],[180,4.18],[265,4.48],[345,4.7],[415,4.72],[490,4.58],[580,4.45],[720,4.36],[950,4.36],[1200,4.42],[1500,4.52],[2500,4.5]],
 [[0,2.3],[20,2.8],[45,3.35],[80,3.75],[120,3.95],[180,4.05],[260,4.25],[340,4.4],[420,4.4],[520,4.38],[650,4.38],[850,4.4],[1100,4.42],[1500,4.52],[2500,4.5]],
 [[0,2.05],[22,2.6],[50,3.18],[85,3.6],[125,3.83],[185,3.92],[260,4.05],[345,4.17],[440,4.25],[540,4.32],[680,4.38],[880,4.43],[1150,4.45],[1500,4.52],[2500,4.5]],
 [[0,1.8],[25,2.4],[55,3.0],[90,3.45],[130,3.7],[190,3.8],[260,3.85],[350,3.95],[450,4.1],[550,4.25],[700,4.38],[900,4.45],[1200,4.48],[1600,4.53],[2500,4.5]],
 [[0,1.6],[25,2.2],[55,2.82],[90,3.32],[130,3.62],[190,3.76],[260,3.78],[350,3.88],[450,4.05],[555,4.22],[700,4.35],[900,4.43],[1200,4.47],[1600,4.52],[2500,4.5]],
 [[0,1.4],[25,2.0],[55,2.65],[90,3.2],[130,3.55],[190,3.72],[260,3.72],[350,3.82],[450,4.0],[560,4.2],[700,4.33],[900,4.42],[1200,4.47],[1600,4.52],[2500,4.5]],
 [[0,1.05],[25,1.6],[55,2.3],[90,2.95],[130,3.45],[190,3.7],[260,3.68],[350,3.75],[450,3.92],[560,4.15],[700,4.3],[900,4.4],[1200,4.46],[1600,4.52],[2500,4.5]]
];
// I runs, group 4 (x10^5)
const I4 = [
 [[0,0.05],[40,0.2],[80,0.5],[120,0.9],[170,1.25],[230,1.4],[300,1.35],[380,1.2],[460,1.1],[540,1.3],[620,1.9],[700,2.8],[780,3.4],[840,3.6],[900,3.3],[960,2.7],[1040,2.05],[1120,1.65],[1200,1.5],[1300,1.48],[1450,1.55],[1650,1.66],[2500,1.68]],
 [[0,0.1],[40,0.4],[80,0.85],[125,1.4],[175,1.7],[240,1.65],[315,1.45],[400,1.28],[480,1.3],[560,1.65],[640,2.25],[720,2.95],[790,3.3],[850,3.4],[915,3.05],[980,2.5],[1050,1.95],[1130,1.6],[1230,1.49],[1380,1.52],[1600,1.65],[2500,1.68]],
 [[0,0.2],[40,0.6],[80,1.2],[130,1.9],[180,2.1],[250,1.9],[330,1.55],[420,1.35],[500,1.5],[580,2.0],[660,2.6],[740,3.1],[800,3.2],[860,2.85],[930,2.3],[1000,1.85],[1100,1.55],[1250,1.5],[1450,1.58],[1650,1.67],[2500,1.68]],
 [[0,0.3],[35,0.8],[75,1.55],[125,2.25],[175,2.6],[235,2.45],[315,2.05],[400,1.78],[480,1.8],[560,2.15],[640,2.65],[715,3.0],[775,3.0],[840,2.6],[915,2.1],[1000,1.75],[1120,1.53],[1300,1.52],[1550,1.65],[2500,1.68]],
 [[0,0.4],[30,1.0],[70,1.9],[120,2.6],[170,3.05],[220,2.95],[300,2.55],[380,2.2],[460,2.1],[540,2.3],[620,2.7],[690,2.9],[750,2.75],[820,2.35],[900,1.95],[1000,1.65],[1150,1.52],[1350,1.55],[1600,1.66],[2500,1.68]],
 [[0,0.5],[30,1.15],[65,1.95],[110,2.6],[160,3.08],[210,2.98],[285,2.58],[365,2.25],[445,2.12],[520,2.3],[595,2.6],[665,2.72],[735,2.52],[810,2.15],[900,1.82],[1020,1.62],[1200,1.55],[1450,1.6],[2500,1.68]],
 [[0,0.6],[30,1.3],[60,2.0],[100,2.6],[150,3.1],[200,3.0],[270,2.6],[350,2.3],[430,2.15],[500,2.3],[570,2.5],[640,2.55],[720,2.3],[800,1.95],[900,1.7],[1050,1.58],[1300,1.6],[1600,1.67],[2500,1.68]],
 [[0,0.7],[28,1.45],[55,2.15],[90,2.65],[130,2.85],[180,2.65],[245,2.3],[325,2.05],[405,1.95],[480,2.05],[560,2.25],[630,2.3],[720,2.1],[830,1.82],[950,1.66],[1150,1.6],[1450,1.63],[2500,1.68]],
 [[0,0.8],[25,1.6],[50,2.3],[80,2.7],[110,2.6],[160,2.3],[220,2.05],[300,1.85],[380,1.75],[460,1.85],[540,2.0],[620,2.05],[720,1.88],[850,1.7],[1000,1.63],[1300,1.64],[2500,1.68]],
 [[0,0.9],[25,1.7],[50,2.4],[75,2.7],[105,2.45],[155,2.05],[215,1.8],[295,1.65],[380,1.62],[470,1.72],[570,1.85],[680,1.85],[820,1.74],[1000,1.66],[1300,1.65],[2500,1.68]],
 [[0,1.0],[25,1.8],[50,2.5],[70,2.65],[100,2.3],[150,1.85],[210,1.6],[290,1.5],[380,1.52],[480,1.62],[600,1.72],[750,1.72],[900,1.68],[1200,1.66],[2500,1.68]],
 [[0,1.1],[25,1.5],[50,1.7],[80,1.5],[120,1.2],[170,1.05],[240,1.0],[320,1.1],[420,1.3],[520,1.5],[650,1.65],[850,1.7],[1200,1.67],[2500,1.68]],
 [[0,0.15],[50,0.3],[100,0.38],[160,0.4],[230,0.42],[310,0.5],[390,0.68],[460,0.9],[530,1.25],[610,1.65],[690,1.95],[770,2.0],[860,1.85],[960,1.7],[1100,1.62],[1400,1.63],[2500,1.68]],
 [[0,0.02],[80,0.1],[160,0.3],[240,0.55],[320,0.8],[400,1.0],[460,1.2],[520,1.55],[600,2.05],[680,2.5],[760,2.6],[840,2.35],[920,2.0],[1020,1.7],[1150,1.55],[1350,1.58],[1600,1.67],[2500,1.68]],
 [[0,0.01],[90,0.07],[180,0.22],[270,0.42],[350,0.65],[420,0.88],[480,1.15],[540,1.55],[620,2.12],[700,2.5],[780,2.45],[860,2.15],[950,1.85],[1060,1.62],[1200,1.54],[1400,1.58],[1650,1.67],[2500,1.68]],
 [[0,0.01],[100,0.05],[200,0.15],[300,0.3],[380,0.5],[440,0.75],[500,1.1],[560,1.6],[640,2.2],[720,2.45],[800,2.25],[880,1.95],[980,1.68],[1100,1.55],[1300,1.56],[1600,1.66],[2500,1.68]],
 [[0,0.3],[40,0.5],[90,0.6],[150,0.55],[220,0.5],[300,0.55],[380,0.7],[450,0.95],[520,1.3],[600,1.7],[680,2.0],[760,2.05],[850,1.9],[950,1.72],[1100,1.62],[1400,1.62],[2500,1.68]]
];

// ---------------- styling / rendering ----------------
const FONT = "'Liberation Sans', Arial, Helvetica, sans-serif";
const RED = '#b0182c';
const GRAYS = [0, 60, 25, 90, 10, 45, 0, 75, 30, 15, 55, 0, 85, 20, 40, 5, 65, 35, 10];

const decor = {
  id: 'decor',
  afterDraw(chart) {
    const o = chart.options.plugins.decor;
    const {ctx, chartArea: a} = chart;
    const L = Math.floor(a.left) + 0.5, R = Math.floor(a.right) + 0.5;
    const T = Math.floor(a.top) + 0.5, B = Math.floor(a.bottom) + 0.5;
    ctx.save();
    ctx.setLineDash([]);
    ctx.strokeStyle = '#000'; ctx.lineWidth = 1;
    ctx.strokeRect(L, T, R - L, B - T);
    const xs = chart.scales.x, ys = chart.scales.y;
    ctx.beginPath();
    xs.ticks.forEach(t => {
      const px = Math.round(xs.getPixelForValue(t.value)) + 0.5;
      ctx.moveTo(px, B); ctx.lineTo(px, B - 4);
      ctx.moveTo(px, T); ctx.lineTo(px, T + 4);
    });
    ys.ticks.forEach(t => {
      const py = Math.round(ys.getPixelForValue(t.value)) + 0.5;
      ctx.moveTo(L, py); ctx.lineTo(L + 4, py);
      ctx.moveTo(R, py); ctx.lineTo(R - 4, py);
    });
    ctx.stroke();

    // exponent label
    ctx.fillStyle = '#000';
    ctx.textBaseline = 'alphabetic'; ctx.textAlign = 'left';
    ctx.font = '15px ' + FONT;
    const ex = a.left + o.expDx;
    ctx.fillText(o.expPrefix, ex, a.top - o.expBase);
    const w = ctx.measureText(o.expPrefix).width;
    ctx.font = '11px ' + FONT;
    ctx.fillText(o.expPower, ex + w + 1, a.top - o.expBase - 9.5);

    // legend box
    const bl = Math.round(a.right - 93) + 0.5, br = Math.round(a.right - 7.5) + 0.5;
    const bt = Math.round(a.top + 7.5) + 0.5, bb = Math.round(a.top + 70) + 0.5;
    ctx.fillStyle = '#fff';
    ctx.fillRect(bl, bt, br - bl, bb - bt);
    ctx.strokeStyle = '#000'; ctx.lineWidth = 1;
    ctx.strokeRect(bl, bt, br - bl, bb - bt);
    const x1 = a.right - 84, x2 = a.right - 39;
    const yS = Math.round(a.top + 24 + o.legYOff), yI = Math.round(a.top + 50) + 0.5;
    ctx.fillStyle = RED;
    ctx.fillRect(x1, yS, x2 - x1, 1.2);
    ctx.strokeStyle = o.legendDash; ctx.lineWidth = 1.2; ctx.setLineDash([10, 5]);
    ctx.beginPath(); ctx.moveTo(x1, yI); ctx.lineTo(x2 + 2, yI); ctx.stroke();
    ctx.setLineDash([]);
    ctx.fillStyle = '#000';
    ctx.font = '18px ' + FONT;
    const sx = a.right - 37.5;
    ctx.fillText('S', sx, a.top + 29.5);
    const sw = ctx.measureText('S').width;
    const ix = a.right - 34.5;
    ctx.fillText('I', ix, a.top + 57.5);
    const iw = ctx.measureText('I').width;
    ctx.font = '10px ' + FONT;
    ctx.fillText(o.sub, sx + sw + 1.5, a.top + 37.5);
    ctx.fillText(o.sub, ix + iw + 1.5, a.top + 64.5);
    ctx.restore();
  }
};

function makePanel(id, idx, S, I, extra) {
  const datasets = [];
  S.forEach(run => datasets.push({
    data: run.map(p => ({x: p[0], y: p[1]})),
    borderColor: RED, borderWidth: 0.9, pointRadius: 0, pointHoverRadius: 0,
    cubicInterpolationMode: 'monotone', fill: false
  }));
  I.forEach((run, k) => {
    const g = GRAYS[k % GRAYS.length];
    datasets.push({
      data: run.map(p => ({x: p[0], y: p[1]})),
      borderColor: 'rgb(' + g + ',' + g + ',' + g + ')', borderWidth: 1.25, borderDash: [10, 6],
      pointRadius: 0, pointHoverRadius: 0, cubicInterpolationMode: 'monotone', fill: false
    });
  });
  const canvas = document.getElementById(id);
  new Chart(canvas.getContext('2d'), {
    type: 'line',
    data: {datasets},
    options: {
      responsive: false, animation: false, events: [],
      layout: {padding: {left: 0, right: extra.padRight, top: 0, bottom: 1.4}},
      scales: {
        x: {
          type: 'linear', min: 0, max: 2500,
          afterBuildTicks: s => { s.ticks = timeTicks.map(v => ({value: v})); },
          ticks: {font: {family: FONT, size: 16}, color: '#000', padding: 4.8, maxRotation: 0, autoSkip: false,
                  callback: v => String(v)},
          grid: {display: false, drawTicks: false}, border: {display: false},
          title: {display: true, text: xLabel, color: '#000', font: {family: FONT, size: 16}, padding: {top: 0, bottom: 0}},
          afterFit: s => { s.height = 41.3; }
        },
        y: {
          type: 'linear', min: 0, max: yMaxes[idx],
          ticks: {stepSize: yStepsList[idx], font: {family: FONT, size: 16}, color: '#000', padding: extra.yPad,
                  callback: v => String(v)},
          grid: {display: false, drawTicks: false}, border: {display: false},
          title: {display: true, text: yLabel, color: '#000', font: {family: FONT, size: 16}, padding: {top: extra.yTitlePad, bottom: 0}},
          afterFit: s => { s.width = 57.5; }
        }
      },
      plugins: {
        legend: {display: false}, tooltip: {enabled: false},
        title: {display: true, text: panelTitles[idx], fullSize: false, color: '#000',
                font: {family: FONT, size: 15, weight: 'normal'}, padding: {top: 12, bottom: 7.7}},
        decor: {expPrefix: expPrefixes[idx], expPower: expPowers[idx], expDx: extra.expDx, expBase: extra.expBase,
                sub: legendSubs[idx], legendDash: extra.legendDash, legYOff: extra.legYOff}
      }
    },
    plugins: [decor]
  });
}

makePanel('cA', 0, S1, I1, {padRight: 20.7, yPad: 5, yTitlePad: 9.1, expDx: 1.8, expBase: 11, legendDash: '#8a8a8a', legYOff: 0});
makePanel('cB', 1, S2, I2, {padRight: 19.7, yPad: 6.5, yTitlePad: 18.7, expDx: 0.5, expBase: 6.3, legendDash: '#8a8a8a', legYOff: 0});
makePanel('cC', 2, S3, I3, {padRight: 20.7, yPad: 6.5, yTitlePad: 18.7, expDx: 0.5, expBase: 6.3, legendDash: '#000', legYOff: 1});
makePanel('cD', 3, S4, I4, {padRight: 19.7, yPad: 5, yTitlePad: 9.1, expDx: 0.5, expBase: 6.3, legendDash: '#8a8a8a', legYOff: 1});
</script>
</body></html>
